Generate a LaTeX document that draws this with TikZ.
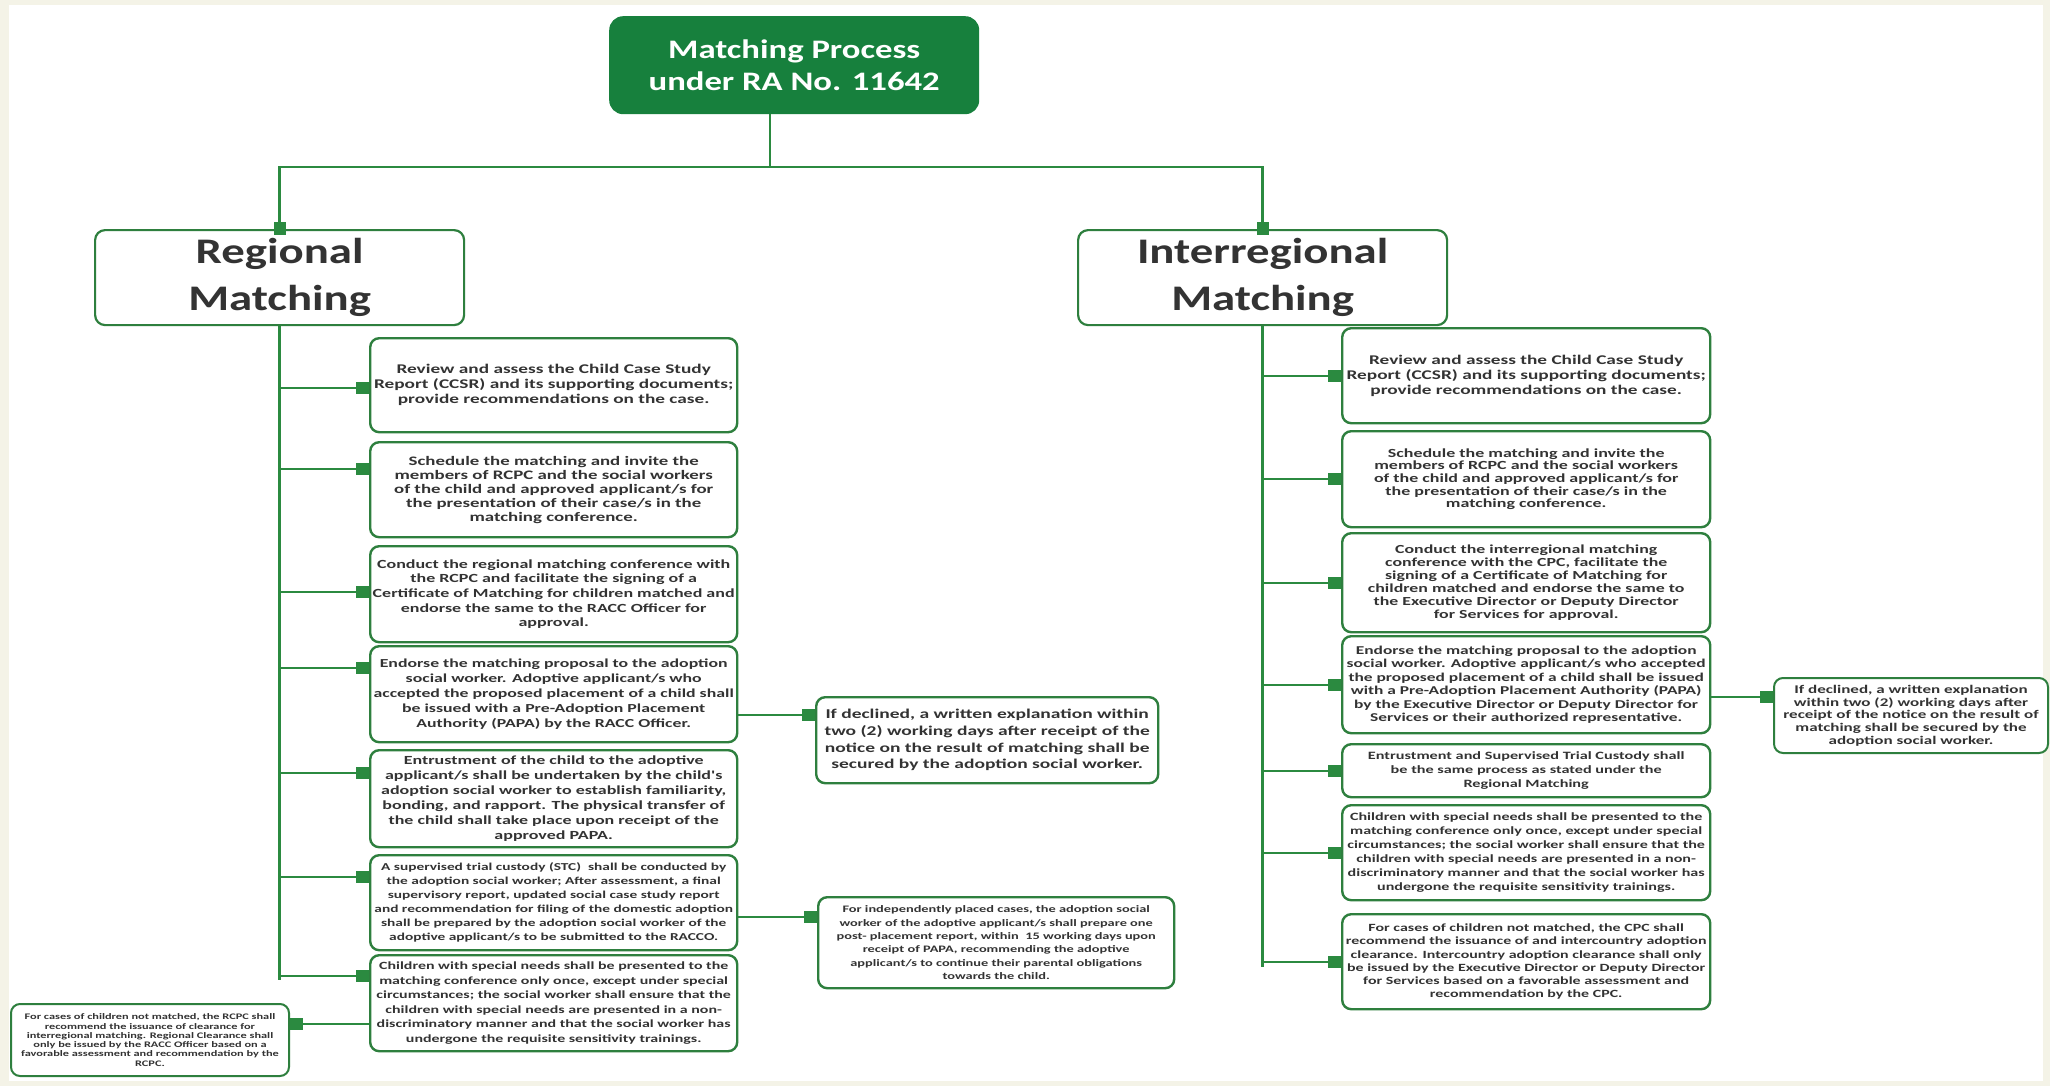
\documentclass[tikz,border=0pt]{standalone}
\usepackage{fontspec}
\usepackage{xcolor}
\usetikzlibrary{arrows.meta, positioning}
\newfontfamily\headfont[FakeStretch=1.3]{Carlito}
\newfontfamily\boxfont[FakeStretch=1.45]{Carlito}
\definecolor{PageCream}{HTML}{F4F3E7}
\definecolor{TitleFill}{HTML}{17803D}
\definecolor{BoxLine}{HTML}{2E7F3E}
\definecolor{LinkLine}{HTML}{2B8A40}
\definecolor{InkGray}{HTML}{333333}
\newcommand{\headsize}[2]{\headfont\bfseries\fontsize{#1}{#2}\selectfont}
\newcommand{\txtsize}[2]{\boxfont\bfseries\fontsize{#1}{#2}\selectfont}

\begin{document}
\begin{tikzpicture}[x=1pt, y=-1pt,
    item/.style={draw=BoxLine, line width=2.4pt, rounded corners=9pt, fill=white,
        text=InkGray, align=center, inner sep=0pt, anchor=north west},
    head/.style={item, line width=2.2pt, rounded corners=10pt,
        minimum width=369pt, minimum height=95pt, font=\headsize{36}{47}},
    link/.style={draw=LinkLine, line width=2.4pt},
    tipped/.style={link, -{Square[length=13pt, width=12pt]}}
]

% background
\fill[PageCream] (0,0) rectangle (2050,1086);
\fill[white] (9,5) rectangle (2043,1081);
\useasboundingbox (0,0) rectangle (2050,1086);

% ===================================================================
% TITLE AND THE TWO BRANCHES
% ===================================================================
\node[fill=TitleFill, rounded corners=14pt, text=white, align=center,
      minimum width=370pt, minimum height=98pt, anchor=north west,
      font=\headsize{26.7}{32}] (title) at (609,16)
    {Matching Process\\under RA No. 11642};

\node[head] (reg) at (94,229) {Regional\\Matching};
\node[head] (inter) at (1077,229) {Interregional\\Matching};

\coordinate (hub) at (770,167);
\draw[link] (hub |- title.south) -- (hub);
\draw[tipped, shorten >=-6pt] (hub) -| (reg.north);
\draw[tipped, shorten >=-6pt] (hub) -| (inter.north);

% ===================================================================
% REGIONAL MATCHING (left column)
% ===================================================================
\node[item, minimum width=367pt, minimum height=94pt, font=\txtsize{13.3}{15}] (l1) at (369,337)
    {Review and assess the Child Case Study\\Report (CCSR) and its supporting documents;\\provide recommendations on the case.};
\node[item, minimum width=367pt, minimum height=95pt, font=\txtsize{13}{14}] (l2) at (369,441)
    {Schedule the matching and invite the\\members of RCPC and the social workers\\of the child and approved applicant/s for\\the presentation of their case/s in the\\matching conference.};
\node[item, minimum width=367pt, minimum height=96pt, font=\txtsize{12.4}{14.6}] (l3) at (369,545)
    {Conduct the regional matching conference with\\the RCPC and facilitate the signing of a\\Certificate of Matching for children matched and\\endorse the same to the RACC Officer for\\approval.};
\node[item, minimum width=367pt, minimum height=96pt, font=\txtsize{12.25}{15}] (l4) at (369,645)
    {Endorse the matching proposal to the adoption\\social worker. Adoptive applicant/s who\\accepted the proposed placement of a child shall\\be issued with a Pre-Adoption Placement\\Authority (PAPA) by the RACC Officer.};
\node[item, minimum width=367pt, minimum height=97pt, font=\txtsize{12.4}{15}] (l5) at (369,749)
    {Entrustment of the child to the adoptive\\applicant/s shall be undertaken by the child's\\adoption social worker to establish familiarity,\\bonding, and rapport. The physical transfer of\\the child shall take place upon receipt of the\\approved PAPA.};
\node[item, minimum width=367pt, minimum height=95pt, font=\txtsize{10.6}{14}] (l6) at (369,854)
    {A supervised trial custody (STC)~~shall be conducted by\\the adoption social worker; After assessment, a final\\supervisory report, updated social case study report\\and recommendation for filing of the domestic adoption\\shall be prepared by the adoption social worker of the\\adoptive applicant/s to be submitted to the RACCO.};
\node[item, minimum width=367pt, minimum height=96pt, font=\txtsize{11}{14.5}] (l7) at (369,954)
    {Children with special needs shall be presented to the\\matching conference only once, except under special\\circumstances; the social worker shall ensure that the\\children with special needs are presented in a non-\\discriminatory manner and that the social worker has\\undergone the requisite sensitivity trainings.};

% side notes
\node[item, minimum width=342pt, minimum height=86pt, font=\txtsize{13.45}{16.7}] (s1) at (815,696)
    {If declined, a written explanation within\\two (2) working days after receipt of the\\notice on the result of matching shall be\\secured by the adoption social worker.};
\node[item, minimum width=356pt, minimum height=91pt, font=\txtsize{9.9}{13.3}] (s2) at (817,896)
    {For independently placed cases, the adoption social\\worker of the adoptive applicant/s shall prepare one\\post- placement report, within~~15 working days upon\\receipt of PAPA, recommending the adoptive\\applicant/s to continue their parental obligations\\towards the child.};
\node[item, line width=2pt, minimum width=278pt, minimum height=72pt, font=\txtsize{8.5}{9.3}] (fl) at (10,1003)
    {For cases of children not matched, the RCPC shall\\recommend the issuance of clearance for\\interregional matching. Regional Clearance shall\\only be issued by the RACC Officer based on a\\favorable assessment and recommendation by the\\RCPC.};

% spine and branches
\draw[link] (reg.south) -- ++(0,654);
\foreach \b/\dy in {l1/-3, l2/21, l3/2, l4/26, l5/26, l6/26, l7/27} {
    \path ([yshift=\dy pt]\b.west) coordinate (tmp);
    \draw[tipped] (reg.south |- tmp) -- (tmp);
}
\draw[tipped] ([yshift=-21pt]l4.east) -- ([yshift=-21pt]l4.east -| s1.west);
\draw[tipped] ([yshift=-14pt]l6.east) -- ([yshift=-14pt]l6.east -| s2.west);
\draw[tipped] ([yshift=-21pt]l7.west) -- ([yshift=-21pt]l7.west -| fl.east);

% ===================================================================
% INTERREGIONAL MATCHING (right column)
% ===================================================================
\node[item, minimum width=368pt, minimum height=95pt, font=\txtsize{13.3}{15}] (r1) at (1341,327)
    {Review and assess the Child Case Study\\Report (CCSR) and its supporting documents;\\provide recommendations on the case.};
\node[item, minimum width=368pt, minimum height=96pt, font=\txtsize{12.4}{12.6}] (r2) at (1341,430)
    {Schedule the matching and invite the\\members of RCPC and the social workers\\of the child and approved applicant/s for\\the presentation of their case/s in the\\matching conference.};
\node[item, minimum width=368pt, minimum height=99pt, font=\txtsize{12.3}{12.9}] (r3) at (1341,532)
    {Conduct the interregional matching\\conference with the CPC, facilitate the\\signing of a Certificate of Matching for\\children matched and endorse the same to\\the Executive Director or Deputy Director\\for Services for approval.};
\node[item, minimum width=368pt, minimum height=97pt, font=\txtsize{12}{13.5}] (r4) at (1341,635)
    {Endorse the matching proposal to the adoption\\social worker. Adoptive applicant/s who accepted\\the proposed placement of a child shall be issued\\with a Pre-Adoption Placement Authority (PAPA)\\by the Executive Director or Deputy Director for\\Services or their authorized representative.};
\node[item, minimum width=368pt, minimum height=53pt, font=\txtsize{11.2}{14}] (r5) at (1341,743)
    {Entrustment and Supervised Trial Custody shall\\be the same process as stated under the\\Regional Matching};
\node[item, minimum width=368pt, minimum height=95pt, font=\txtsize{11.1}{13.9}] (r6) at (1341,804)
    {Children with special needs shall be presented to the\\matching conference only once, except under special\\circumstances; the social worker shall ensure that the\\children with special needs are presented in a non-\\discriminatory manner and that the social worker has\\undergone the requisite sensitivity trainings.};
\node[item, minimum width=368pt, minimum height=95pt, font=\txtsize{11}{13.3}] (r7) at (1341,913)
    {For cases of children not matched, the CPC shall\\recommend the issuance of and intercountry adoption\\clearance. Intercountry adoption clearance shall only\\be issued by the Executive Director or Deputy Director\\for Services based on a favorable assessment and\\recommendation by the CPC.};

% side note
\node[item, line width=2pt, minimum width=274pt, minimum height=75pt, font=\txtsize{11.75}{12.7}] (rs) at (1773,677)
    {If declined, a written explanation\\within two (2) working days after\\receipt of the notice on the result of\\matching shall be secured by the\\adoption social worker.};

% spine and branches
\draw[link] (inter.south) -- ++(0,641);
\foreach \b in {r1,r2,r3,r4,r5,r6,r7} {
    \draw[tipped] (inter.south |- \b.west) -- (\b.west);
}
\draw[tipped] ([yshift=-12pt]r4.east) -- ([yshift=-12pt]r4.east -| rs.west);

\end{tikzpicture}
\end{document}
